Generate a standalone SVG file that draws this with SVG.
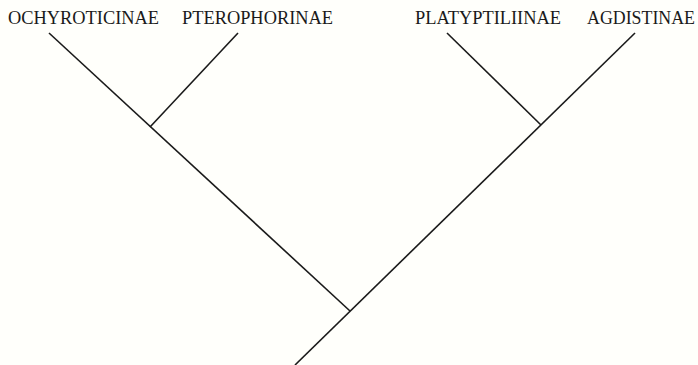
<svg xmlns="http://www.w3.org/2000/svg" width="698" height="365" viewBox="0 0 698 365">
<style>
.lbl{font-family:"Liberation Serif","Times New Roman",serif;font-size:18px;fill:#1a1a1a}
.br{stroke:#1a1a1a;stroke-width:1.6;fill:none;stroke-linecap:butt}
</style>
<rect width="698" height="365" fill="#fffffb"/>
<g id="connectors">
<line class="br" x1="49" y1="33" x2="350" y2="311"/>
<line class="br" x1="150" y1="127" x2="238" y2="33"/>
<line class="br" x1="635" y1="33" x2="295" y2="365"/>
<line class="br" x1="541" y1="125" x2="447" y2="33"/>
</g>
<g id="ochyroticinae"><text class="lbl" x="8" y="24" textLength="151" lengthAdjust="spacingAndGlyphs">OCHYROTICINAE</text></g>
<g id="pterophorinae"><text class="lbl" x="182" y="24" textLength="151" lengthAdjust="spacingAndGlyphs">PTEROPHORINAE</text></g>
<g id="platyptiliinae"><text class="lbl" x="415" y="24" textLength="146" lengthAdjust="spacingAndGlyphs">PLATYPTILIINAE</text></g>
<g id="agdistinae"><text class="lbl" x="587" y="24" textLength="108" lengthAdjust="spacingAndGlyphs">AGDISTINAE</text></g>
</svg>
